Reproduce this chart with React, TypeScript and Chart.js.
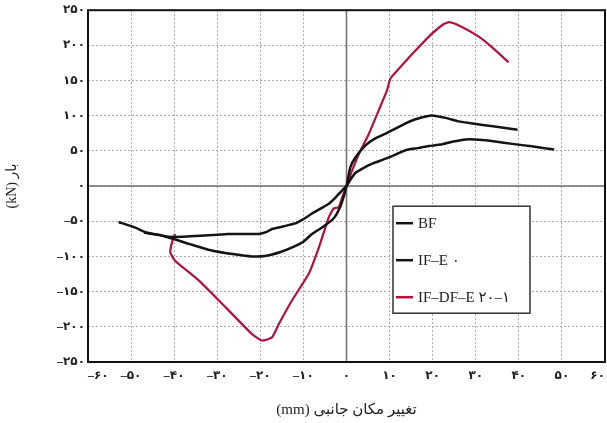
import React, { useEffect, useRef } from "react";
import { Chart, registerables } from "chart.js";

Chart.register(...registerables);

// ---- Data ----
const seriesNames = ["BF", "IF–E ۰", "IF–DF–E \u200E۲۰\u200E–\u200E۱"];
const seriesColors = ["#141414", "#141414", "#b4103c"];

const bfX = [-52.9, -49, -46.5, -43, -41.3, -38, -35, -31, -27.4, -23, -20.4, -18.5, -17.3, -14.5, -11.9, -10, -8, -6, -4.1, -2.5, -1, 0, 1, 2.1, 4, 6, 9.1, 11.5, 13.7, 16.5, 19.1, 21.9, 24.5, 27.7, 30.8, 34.5, 38.5, 43, 48.2];
const bfY = [-51, -59, -66, -70, -72, -72, -71, -69.5, -68, -68, -68, -65, -61, -57, -53, -47, -39, -32, -25, -16, -6, 0, 10, 19, 26, 32, 39, 45, 51, 54, 57, 59, 63, 66.4, 66, 63.5, 60, 56.5, 52];

const ifeX = [-47, -44, -41.3, -36.3, -31.3, -26, -22, -19, -15.5, -12.6, -10, -8, -5.5, -3, -1.5, -0.5, 0, 0.9, 2.1, 4.4, 6.5, 9.1, 13.7, 16, 18.4, 19.8, 23, 26, 29.2, 34, 39.7];
const ifeY = [-66, -69, -73, -82.5, -91.5, -97, -100, -99.5, -94, -87, -79, -68, -58, -46, -30, -12, 0, 27, 41, 58, 67, 74.5, 89, 95, 99, 100.5, 97, 92, 89, 85, 80];

const dfX = [-39.8, -40.5, -40.9, -39.8, -34.3, -28.1, -22, -19.6, -17.3, -15.7, -12.7, -8.8, -6.4, -4.1, -3, -1.8, -1, 0, 1.3, 2.9, 5.2, 7.5, 9.4, 10.2, 12.2, 15.3, 19.9, 22.5, 23.8, 25.5, 30.8, 34, 37.6];
const dfY = [-68, -80, -94, -106, -134, -172, -210, -219.5, -215, -196, -163, -125, -87, -44, -32, -30, -16, 0, 22, 46, 74.5, 108, 136, 153, 167, 188, 217, 230, 233, 230, 212, 196, 176];

const xTicks = [-60, -50, -40, -30, -20, -10, 0, 10, 20, 30, 40, 50, 60];
const yTicks = [-250, -200, -150, -100, -50, 0, 50, 100, 150, 200, 250];

const xTitle = "(mm) تغییر مکان جانبی";
const yTitle = "(kN) بار";

const faDigits = "۰۱۲۳۴۵۶۷۸۹";
const toFa = (v: number) => {
  const s = String(Math.abs(Math.round(v))).replace(/[0-9]/g, (d) => faDigits[Number(d)]);
  return v < 0 ? "–" + s : s;
};

const tickFont = { family: "'Liberation Serif', 'DejaVu Sans', serif", size: 12, weight: "bold" as const };
const titleFont = { family: "'Liberation Serif', 'DejaVu Sans', serif", size: 15 };

const decorPlugin = {
  id: "decor",
  beforeDatasetsDraw(chart: any) {
    const { ctx, chartArea: a, scales } = chart;
    const x0 = scales.x.getPixelForValue(0);
    const y0 = scales.y.getPixelForValue(0);
    ctx.save();
    ctx.strokeStyle = "#6e6e6e";
    ctx.lineWidth = 1.5;
    ctx.beginPath();
    ctx.moveTo(x0, a.top);
    ctx.lineTo(x0, a.bottom);
    ctx.moveTo(a.left, y0);
    ctx.lineTo(a.right, y0);
    ctx.stroke();
    ctx.strokeStyle = "#111";
    ctx.lineWidth = 2;
    ctx.strokeRect(a.left, a.top, a.right - a.left, a.bottom - a.top);
    ctx.restore();
  },
  afterDraw(chart: any) {
    const { ctx, chartArea: a } = chart;
    const bx = a.left + 305;
    const by = a.top + 196;
    const bw = 137;
    const bh = 107;
    ctx.save();
    ctx.fillStyle = "#fff";
    ctx.fillRect(bx, by, bw, bh);
    ctx.strokeStyle = "#333";
    ctx.lineWidth = 1.5;
    ctx.strokeRect(bx, by, bw, bh);
    ctx.font = "15px 'Liberation Serif', 'DejaVu Sans', serif";
    ctx.textBaseline = "middle";
    ctx.textAlign = "left";
    chart.data.datasets.forEach((ds: any, i: number) => {
      const cy = by + 17 + i * 37;
      ctx.strokeStyle = ds.borderColor;
      ctx.lineWidth = 2.5;
      ctx.beginPath();
      ctx.moveTo(bx + 3, cy);
      ctx.lineTo(bx + 20, cy);
      ctx.stroke();
      ctx.fillStyle = "#222";
      ctx.fillText(ds.label, bx + 25, cy + 1);
    });
    ctx.restore();
  },
};

function makePts(xs: number[], ys: number[]) {
  return xs.map((x, i) => ({ x, y: ys[i] }));
}

export default function App() {
  const ref = useRef<HTMLCanvasElement | null>(null);
  useEffect(() => {
    document.body.style.margin = "0";
    const canvas = ref.current!;
    const chart = new Chart(canvas, {
      type: "line",
      data: {
        datasets: [
          { label: seriesNames[0], data: makePts(bfX, bfY), borderColor: seriesColors[0], borderWidth: 2.5 },
          { label: seriesNames[1], data: makePts(ifeX, ifeY), borderColor: seriesColors[1], borderWidth: 2.5 },
          { label: seriesNames[2], data: makePts(dfX, dfY), borderColor: seriesColors[2], borderWidth: 2.2 },
        ].map((d) => ({ ...d, pointRadius: 0, tension: 0.15, fill: false })),
      },
      options: {
        responsive: false,
        animation: false,
        layout: { padding: { top: 10, right: 2, left: 0, bottom: 0 } },
        plugins: { legend: { display: false }, tooltip: { enabled: false } },
        scales: {
          x: {
            type: "linear",
            min: xTicks[0],
            max: xTicks[xTicks.length - 1],
            afterBuildTicks: (s: any) => {
              s.ticks = xTicks.map((v) => ({ value: v }));
            },
            afterFit: (s: any) => {
              s.height = 61;
              s.paddingLeft = 0;
              s.paddingRight = 0;
            },
            ticks: { callback: (v: any) => toFa(Number(v)), font: tickFont, color: "#222", padding: 7, maxRotation: 0, autoSkip: false, align: "inner" },
            grid: { color: "#a8a8a8", lineWidth: 1, drawTicks: false },
            border: { display: false, dash: [2, 2] },
            title: { display: true, text: xTitle, font: titleFont, color: "#222", padding: { top: 0, bottom: 4 } },
          },
          y: {
            type: "linear",
            min: yTicks[0],
            max: yTicks[yTicks.length - 1],
            afterBuildTicks: (s: any) => {
              s.ticks = yTicks.map((v) => ({ value: v }));
            },
            afterFit: (s: any) => {
              s.width = 88;
            },
            ticks: { callback: (v: any) => toFa(Number(v)), font: tickFont, color: "#222", padding: 3, autoSkip: false },
            grid: { color: "#a8a8a8", lineWidth: 1, drawTicks: false },
            border: { display: false, dash: [2, 2] },
            title: { display: true, text: yTitle, font: { ...titleFont, size: 14 }, color: "#222", padding: { top: 4, bottom: 0 } },
          },
        },
      },
      plugins: [decorPlugin],
    } as any);
    return () => chart.destroy();
  }, []);
  return (
    <div style={{ width: 607, height: 423 }}>
      <canvas ref={ref} width={607} height={423} />
    </div>
  );
}
